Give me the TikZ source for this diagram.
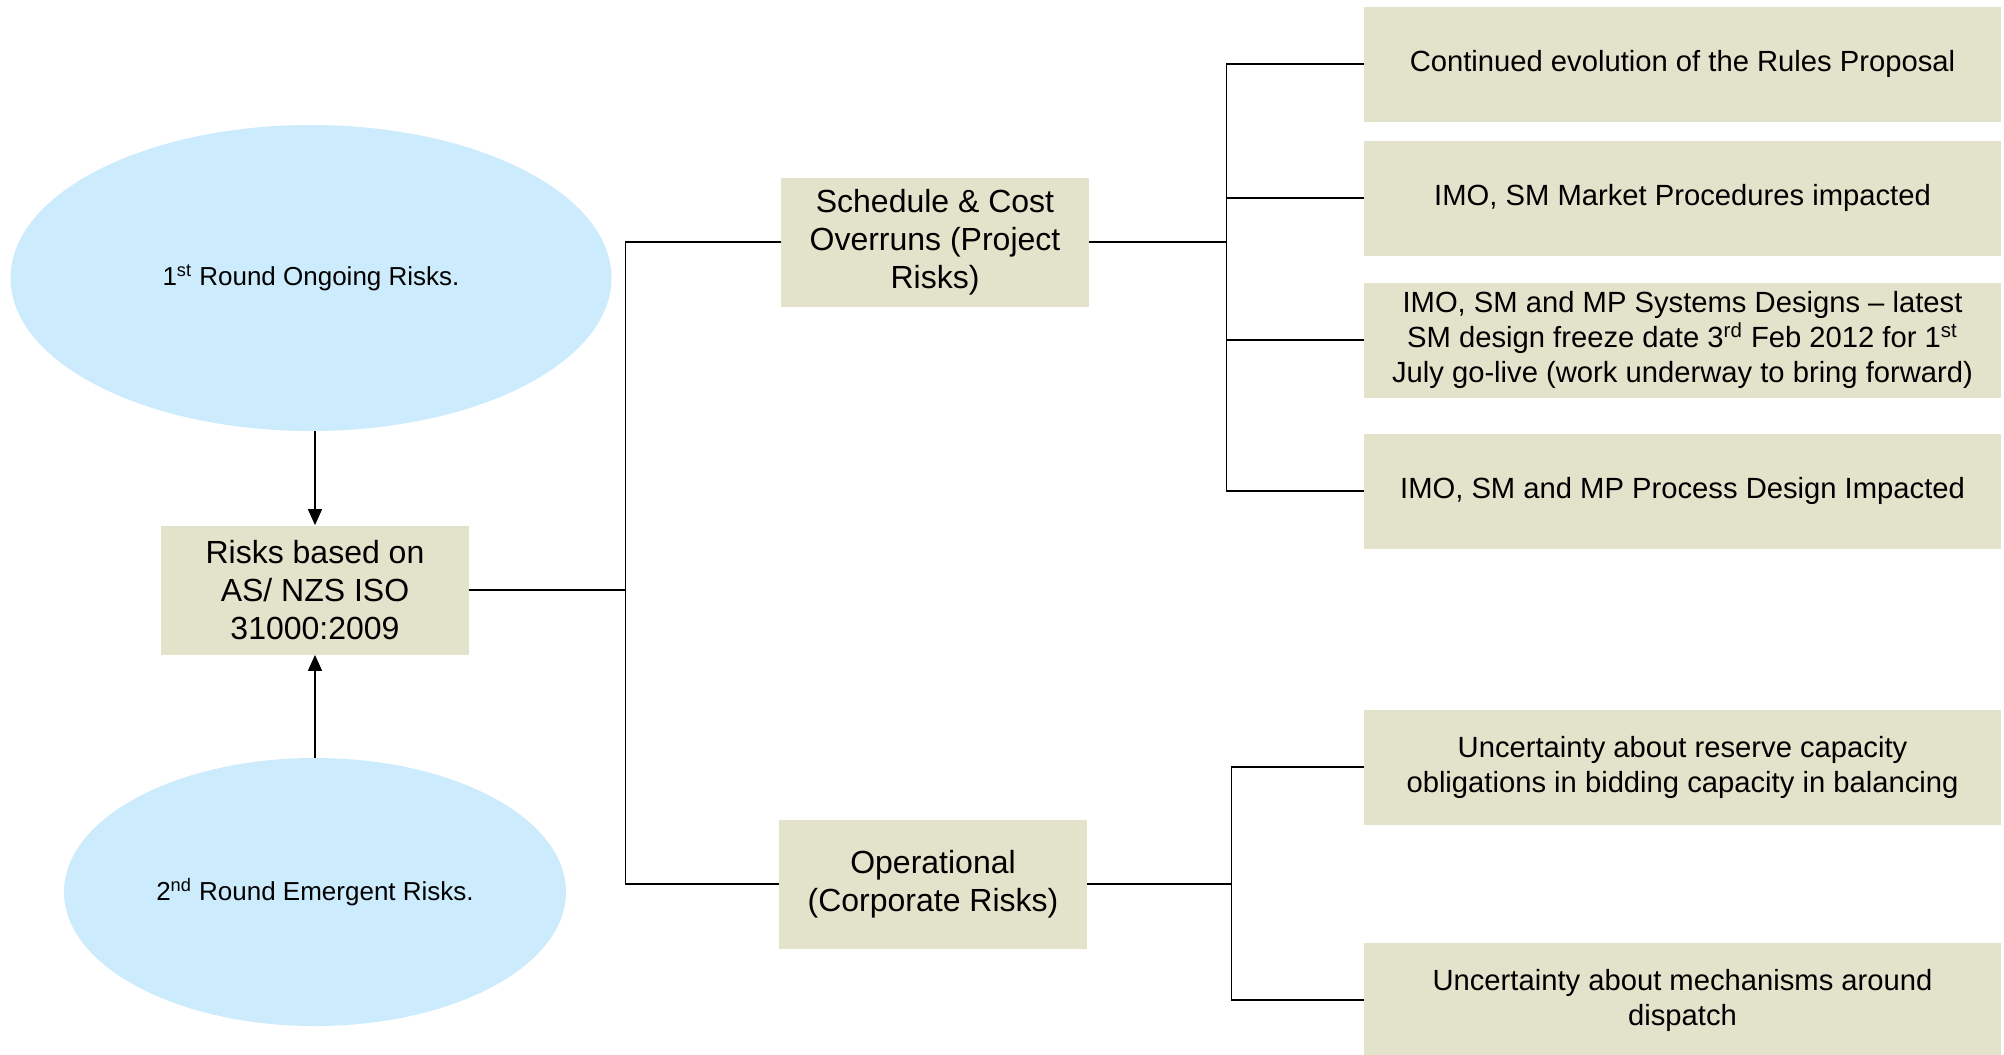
\documentclass[tikz,border=0pt]{standalone}
\usepackage{fontspec}
\setmainfont{Liberation Sans}
\usepackage{tikz}
\usetikzlibrary{arrows.meta,shapes,positioning}
\definecolor{boxfill}{RGB}{227,227,203}
\definecolor{cloudfill}{RGB}{204,235,252}

\begin{document}
\begin{tikzpicture}[x=0.5pt, y=-0.5pt,
      box/.style={rectangle, fill=boxfill, align=center, inner sep=0pt,
        font=\fontsize{16}{19}\selectfont, minimum width=154pt, minimum height=64.5pt},
      leaf/.style={box, font=\fontsize{14.6}{17.5}\selectfont,
        minimum width=318.5pt, minimum height=57.5pt},
      cloud/.style={ellipse, fill=cloudfill, inner sep=0pt, font=\fontsize{13}{15}\selectfont},
      link/.style={line width=0.8pt},
      arr/.style={link, -{Triangle[length=8pt,width=7pt]}}]
      \useasboundingbox (0,0) rectangle (2004,1055);

      \node[cloud, minimum width=300.5pt, minimum height=153pt] (ongoing) at (311,278)
        {1\textsuperscript{st} Round Ongoing Risks.};
      \node[cloud, minimum width=251pt, minimum height=134pt] (emergent) at (315,892)
        {2\textsuperscript{nd} Round Emergent Risks.};
      \node[box] (iso) at (315,590) {Risks based on\\AS/ NZS ISO\\31000:2009};

      \node[box] (project) at (935,242) {Schedule \& Cost\\Overruns (Project\\Risks)};
      \node[box] (corporate) at (933,884) {Operational\\(Corporate Risks)};

      \node[leaf] (p1) at (1682.5,64) {Continued evolution of the Rules Proposal};
      \node[leaf] (p2) at (1682.5,198) {IMO, SM Market Procedures impacted};
      \node[leaf] (p3) at (1682.5,340) {IMO, SM and MP Systems Designs \textendash{} latest\\
        SM design freeze date 3\textsuperscript{rd} Feb 2012 for 1\textsuperscript{st}\\
        July go-live (work underway to bring forward)};
      \node[leaf] (p4) at (1682.5,491) {IMO, SM and MP Process Design Impacted};
      \node[leaf] (c1) at (1682.5,767) {Uncertainty about reserve capacity\\
        obligations in bidding capacity in balancing};
      \node[leaf] (c2) at (1682.5,1000) {Uncertainty about mechanisms around\\dispatch};

      \draw[arr] (iso.north |- ongoing.south) -- (iso.north);
      \draw[arr] (emergent.north) -- (iso.south);

      % elbow links out of each parent
      \foreach \n in {project,corporate}
        \draw[link] (iso.east) -- ++(156,0) |- (\n.west);
      \foreach \n in {p1,p2,p3,p4}
        \draw[link] (project.east) -- ++(137,0) |- (\n.west);
      \foreach \n in {c1,c2}
        \draw[link] (corporate.east) -- ++(144,0) |- (\n.west);
    \end{tikzpicture}
\end{document}
